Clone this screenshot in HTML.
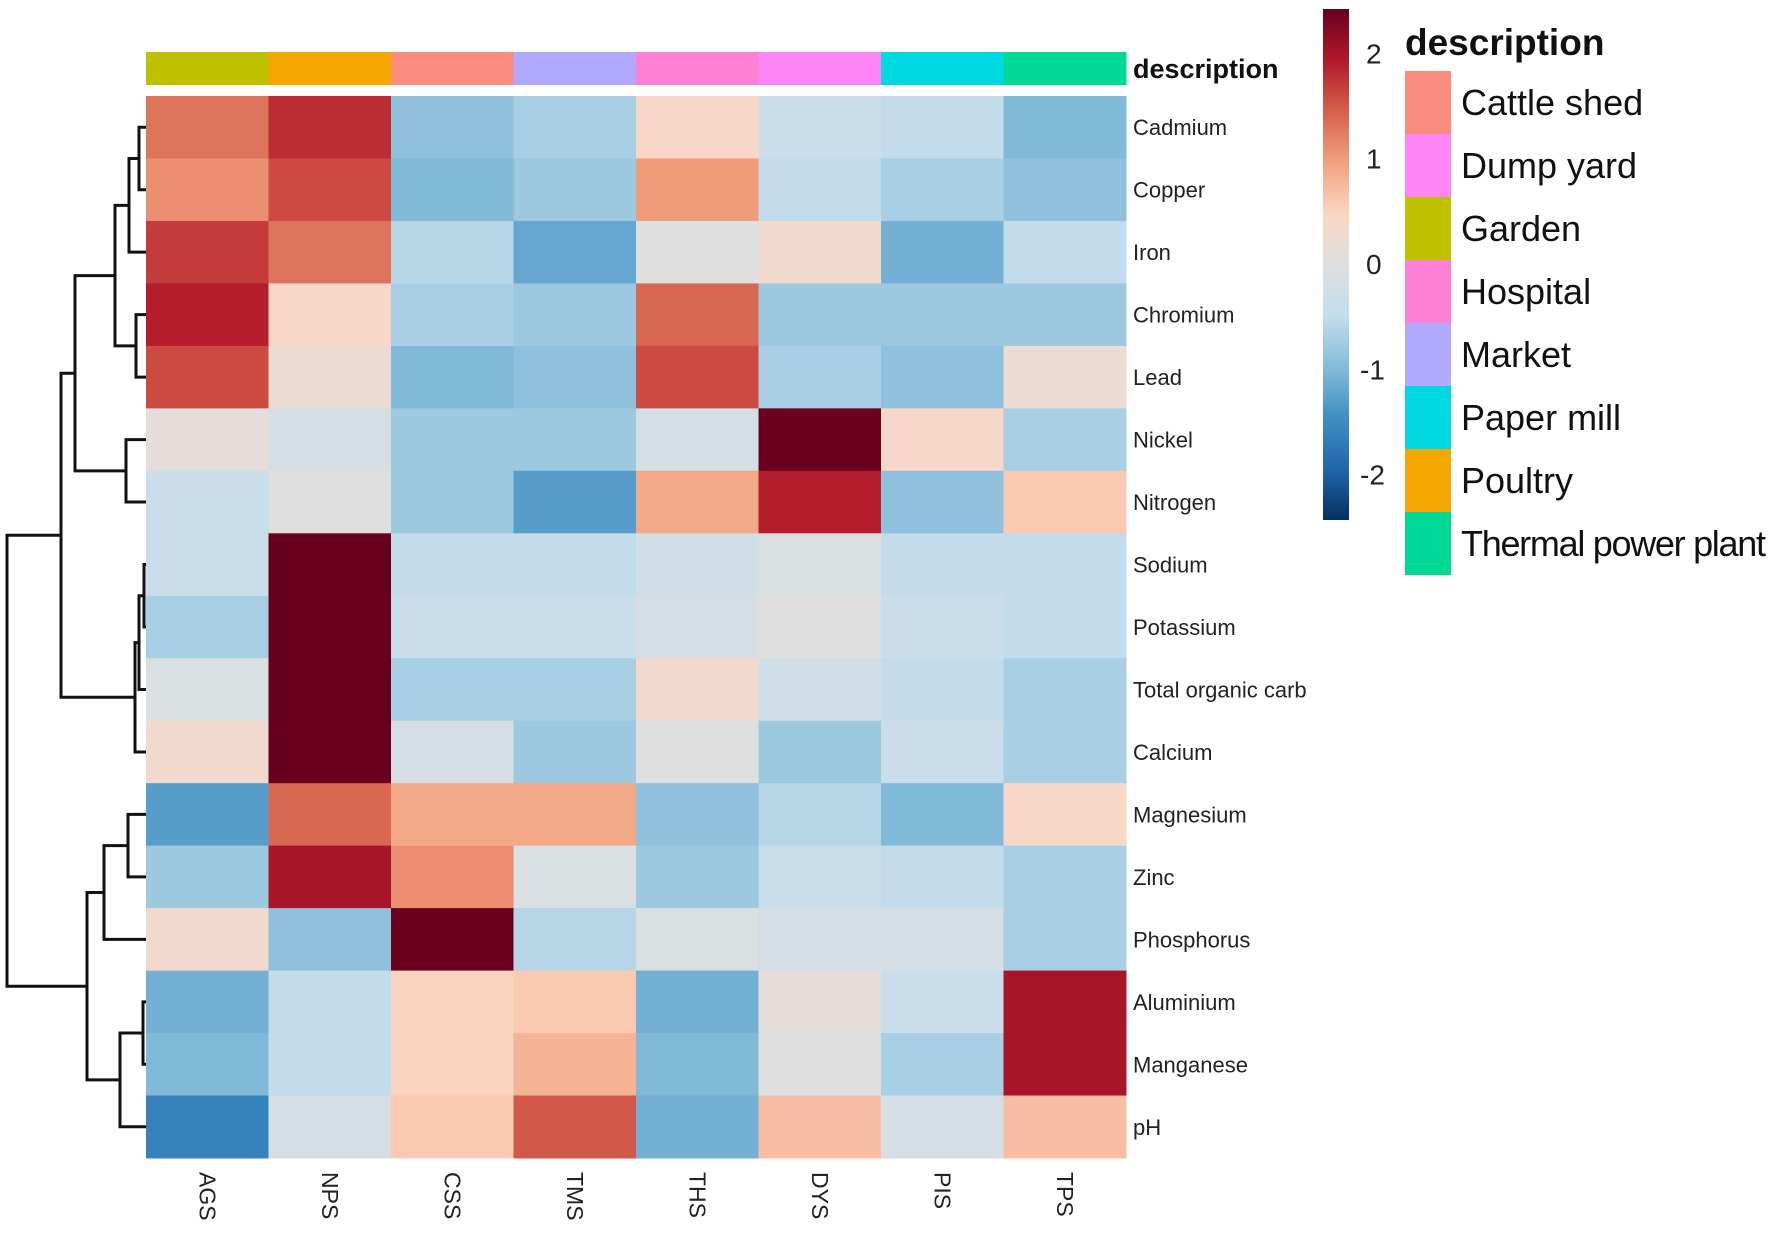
<!DOCTYPE html>
<html><head><meta charset="utf-8">
<style>
html,body{margin:0;padding:0;background:#fff;}
svg{display:block;font-family:"Liberation Sans",sans-serif;}
</style></head>
<body>
<svg id="chart" width="1772" height="1234" viewBox="0 0 1772 1234" xmlns="http://www.w3.org/2000/svg">
<g id="annot"></g>
<g id="cells"></g>
<g id="dendro"></g>
<g id="rowlabels"></g>
<g id="collabels"></g>
<text x="1133" y="78" font-size="27" font-weight="bold" fill="#111">description</text>
<g id="colorbar"></g>
<g id="legend">
<text x="1405" y="55" font-size="37" font-weight="bold" fill="#111">description</text>
</g>
</svg>
<script>
const columns = ["AGS","NPS","CSS","TMS","THS","DYS","PIS","TPS"];
const columnGroups = ["Garden","Poultry","Cattle shed","Market","Hospital","Dump yard","Paper mill","Thermal power plant"];
const rows = ["Cadmium","Copper","Iron","Chromium","Lead","Nickel","Nitrogen","Sodium","Potassium","Total organic carb","Calcium","Magnesium","Zinc","Phosphorus","Aluminium","Manganese","pH"];
const values = [
 [1.3, 1.8, -0.9, -0.7, 0.4, -0.4, -0.5, -1.0],
 [1.1, 1.6, -1.0, -0.8, 1.0, -0.5, -0.7, -0.9],
 [1.7, 1.3, -0.6, -1.2, 0.0, 0.3, -1.1, -0.5],
 [1.9, 0.4, -0.7, -0.8, 1.4, -0.8, -0.8, -0.8],
 [1.6, 0.2, -1.0, -0.9, 1.6, -0.7, -0.9, 0.2],
 [0.1, -0.2, -0.8, -0.8, -0.2, 2.4, 0.4, -0.7],
 [-0.4, 0.0, -0.8, -1.3, 0.9, 1.9, -0.9, 0.6],
 [-0.4, 2.6, -0.5, -0.5, -0.3, -0.1, -0.5, -0.5],
 [-0.7, 2.6, -0.4, -0.4, -0.2, 0.0, -0.4, -0.5],
 [-0.1, 2.6, -0.7, -0.7, 0.3, -0.3, -0.5, -0.7],
 [0.3, 2.6, -0.2, -0.8, 0.0, -0.8, -0.4, -0.7],
 [-1.3, 1.4, 0.9, 0.9, -0.9, -0.6, -1.0, 0.4],
 [-0.8, 2.0, 1.1, -0.1, -0.8, -0.4, -0.5, -0.7],
 [0.3, -0.9, 2.4, -0.6, -0.1, -0.2, -0.2, -0.7],
 [-1.1, -0.5, 0.5, 0.6, -1.1, 0.1, -0.4, 2.0],
 [-1.0, -0.5, 0.5, 0.8, -1.0, 0.0, -0.7, 2.0],
 [-1.6, -0.2, 0.6, 1.5, -1.1, 0.7, -0.2, 0.7]
];
const legendGroups = ["Cattle shed","Dump yard","Garden","Hospital","Market","Paper mill","Poultry","Thermal power plant"];
const groupColors = {"Cattle shed":"#fb8b7e","Dump yard":"#fd85f6","Garden":"#bfc000","Hospital":"#fd80d4","Market":"#b0a9fd","Paper mill":"#00d9e2","Poultry":"#f4a700","Thermal power plant":"#00d895"};
const colorTicks = [2,1,0,-1,-2];
const merges = [
 [0,1,7],["n0",2,17],[3,4,10],["n1","n2",31],[5,6,20],["n3","n4",71],
 [7,8,2],["n6",9,7],["n7",10,11],["n5","n8",85],
 [11,12,18],["n10",13,42],[14,15,3],["n12",16,26],["n11","n13",59],
 ["n9","n14",139]
];

const NS="http://www.w3.org/2000/svg";
const X0=146, X1=1126, Y0=96, Y1=1158;
const cw=(X1-X0)/columns.length, rh=(Y1-Y0)/rows.length;
const xPos=i=>X0+i*cw, yPos=i=>Y0+i*rh;
const dX=h=>X0-h;
const vmin=-2.43, vmax=2.42;
const pal=["#053061","#2166ac","#3f8ec2","#85bcda","#c4ddec","#dfdfdf","#fbd6c3","#f2a17f","#d6604d","#b2182b","#67001f"];
function hex(c){return [1,3,5].map(i=>parseInt(c.substr(i,2),16));}
function color(v){
  let t=(Math.max(vmin,Math.min(vmax,v))-vmin)/(vmax-vmin)*(pal.length-1);
  let i=Math.min(Math.floor(t),pal.length-2),f=t-i;
  const a=hex(pal[i]),b=hex(pal[i+1]);
  return "rgb("+a.map((x,k)=>Math.round(x+(b[k]-x)*f)).join(",")+")";
}
function el(tag,attrs,parent){const e=document.createElementNS(NS,tag);for(const k in attrs)e.setAttribute(k,attrs[k]);parent.appendChild(e);return e;}

const annot=document.getElementById('annot');
columnGroups.forEach((g,i)=>{
  const r=el('rect',{x:xPos(i),y:52,width:cw+0.5,height:33,fill:groupColors[g]},annot);
  
  
});
const cells=document.getElementById('cells');
values.forEach((row,r)=>row.forEach((v,c)=>{
  const e=el('rect',{x:xPos(c),y:yPos(r),width:cw+0.5,height:rh+0.5,fill:color(v)},cells);
  
  
}));
const rl=document.getElementById('rowlabels');
rows.forEach((n,i)=>{
  const t=el('text',{x:1133,y:yPos(i)+rh/2+8,'font-size':22,fill:'#222'},rl);
  t.textContent=n;
  
  
});
const cl=document.getElementById('collabels');
columns.forEach((n,i)=>{
  const cx=xPos(i)+cw/2-8;
  const t=el('text',{x:cx,y:1172,'font-size':23,fill:'#222',transform:'rotate(90 '+cx+' 1172)'},cl);
  t.textContent=n;
  
  
});
const dg=document.getElementById('dendro');
const nodes=[];
function pos(k){return typeof k==='number'?{y:yPos(k)+rh/2,h:0}:nodes[+k.slice(1)];}
merges.forEach(m=>{
  const a=pos(m[0]),b=pos(m[1]),x=dX(m[2]);
  const p=el('path',{d:`M${dX(a.h)},${a.y}H${x}V${b.y}H${dX(b.h)}`,fill:'none',stroke:'#111','stroke-width':3},dg);
  
  
  nodes.push({y:(a.y+b.y)/2,h:m[2]});
});
const cb=document.getElementById('colorbar');
const defs=el('defs',{},cb);
const grad=el('linearGradient',{id:'cg',x1:0,y1:1,x2:0,y2:0},defs);
pal.forEach((c,i)=>el('stop',{offset:i/(pal.length-1),'stop-color':c},grad));
const CB0=9,CB1=520;
const cbY=v=>CB1-(v-vmin)/(vmax-vmin)*(CB1-CB0);
const bar=el('rect',{x:1323,y:CB0,width:26,height:CB1-CB0,fill:'url(#cg)'},cb);


colorTicks.forEach(v=>{
  const t=el('text',{x:v<0?1360:1366,y:cbY(v)+10,'font-size':28,fill:'#222'},cb);
  t.textContent=String(v);
  
  
});
const lg=document.getElementById('legend');
legendGroups.forEach((g,i)=>{
  const y=71+i*63;
  const r=el('rect',{x:1405,y:y,width:46,height:63,fill:groupColors[g]},lg);
  
  
  const t=el('text',{x:1461,y:y+44,'font-size':36,fill:'#111'},lg);
  t.textContent=g;
  if(g==="Thermal power plant")t.setAttribute('textLength','305');
  
  
});
</script>
</body></html>
